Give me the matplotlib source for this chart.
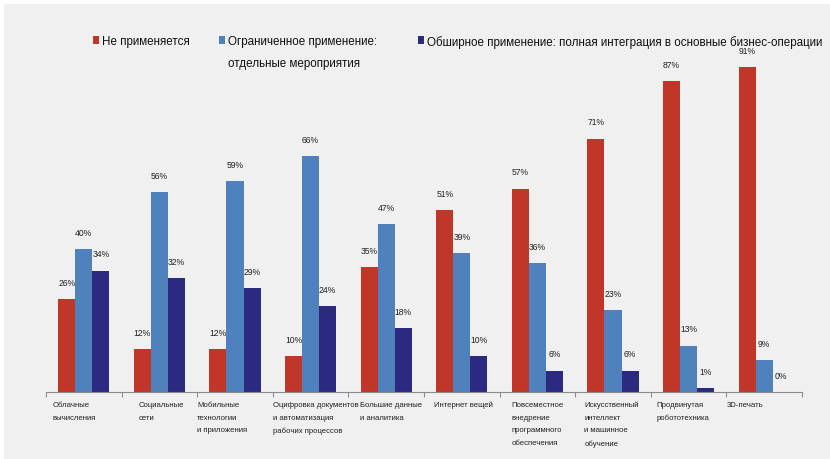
import numpy as np
import matplotlib
matplotlib.use('Agg')
import matplotlib.pyplot as plt
from matplotlib.patches import Rectangle

plt.rcParams['font.family'] = ['Liberation Sans', 'DejaVu Sans']

categories = [
    'Облачные\nвычисления',
    'Социальные\nсети',
    'Мобильные\nтехнологии\nи приложения',
    'Оцифровка документов\nи автоматизация\nрабочих процессов',
    'Большие данные\nи аналитика',
    'Интернет вещей',
    'Повсеместное\nвнедрение\nпрограммного\nобеспечения',
    'Искусственный\nинтеллект\nи машинное\nобучение',
    'Продвинутая\nробототехника',
    '3D-печать',
]
not_used = [26, 12, 12, 10, 35, 51, 57, 71, 87, 91]
limited = [40, 56, 59, 66, 47, 39, 36, 23, 13, 9]
extensive = [34, 32, 29, 24, 18, 10, 6, 6, 1, 0]
series_names = [
    'Не применяется',
    'Ограниченное применение:\nотдельные мероприятия',
    'Обширное применение: полная интеграция в основные бизнес-операции',
]

colors = ['#C0372A', '#4F81BD', '#2B2A80']
bg = '#F0F0F0'

fig = plt.figure(figsize=(8.3, 4.6), dpi=100, facecolor='white')
# grey canvas with thin white margin on top/left
fig.patches.append(Rectangle((4 / 830, 0), 1, 1 - 5 / 460, transform=fig.transFigure,
                             facecolor=bg, edgecolor='none', zorder=-1))

ax = fig.add_axes([46 / 830, 67 / 460, 756 / 830, 0.776])
ax.set_facecolor('none')

x = np.arange(len(categories)) + 0.5
width = 0.225
for k, (vals, col) in enumerate(zip([not_used, limited, extensive], colors)):
    pos = x + (k - 1) * width
    ax.bar(pos, vals, width, color=col, edgecolor='none')
    for xi, v in zip(pos, vals):
        ax.annotate(f'{v}%', (xi, v), xytext=(0, 12), textcoords='offset points',
                    ha='center', va='center', fontsize=6.2, color='#222222',
                    annotation_clip=False)

ax.set_xlim(0, len(categories))
ax.set_ylim(0, 100)
for s in ['top', 'right', 'left']:
    ax.spines[s].set_visible(False)
ax.spines['bottom'].set_color('#8C8C8C')
ax.set_yticks([])
ax.set_xticks(np.arange(len(categories) + 1))
ax.set_xticklabels([])
ax.tick_params(axis='x', direction='out', length=3.5, color='#8C8C8C')

# category labels, left aligned under each group
label_shift = [0.09, 0.22, 0.0, 0.0, 0.16, 0.13, 0.16, 0.12, 0.07, 0.0]
for i, (lab, sh) in enumerate(zip(categories, label_shift)):
    ax.annotate(lab, (i + sh, 0), xytext=(0, -6.5), textcoords='offset points',
                ha='left', va='top', fontsize=5.6, color='#222222',
                linespacing=2.1, annotation_clip=False)

# legend drawn by hand
leg_x = [93, 219, 418]
for name, col, lx in zip(series_names, colors, leg_x):
    fig.patches.append(Rectangle((lx / 830, 1 - 45 / 460), 6 / 830, 8 / 460,
                                 transform=fig.transFigure, facecolor=col, edgecolor='none'))
    fig.text((lx + 9) / 830, 1 - 36 / 460, name, ha='left', va='top', fontsize=8.4,
             color='#111111', linespacing=2.1)

fig.savefig('out.png', dpi=100, facecolor=fig.get_facecolor())
